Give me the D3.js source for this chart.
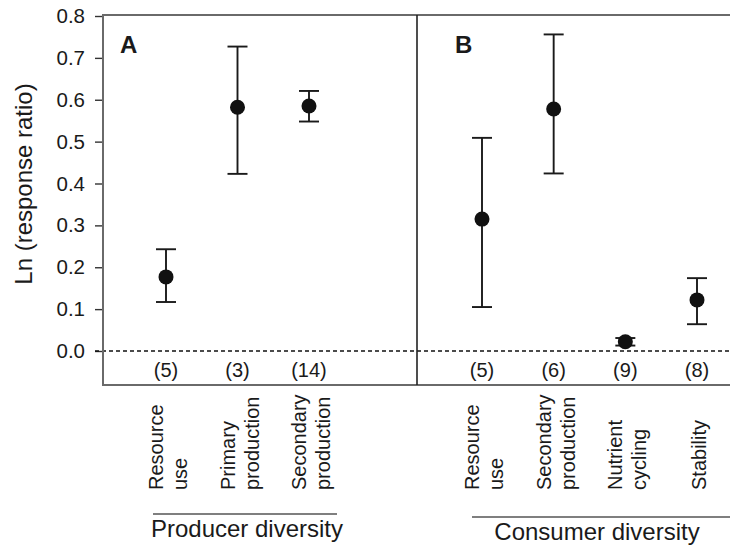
<!DOCTYPE html>
<html>
<head>
<meta charset="utf-8">
<script src="https://cdn.jsdelivr.net/npm/d3@7"></script>
<style>
  html, body { margin: 0; padding: 0; background: #fff; }
  svg { display: block; }
  text { font-family: "Liberation Sans", Arial, Helvetica, sans-serif; fill: #1a1a1a; }
</style>
</head>
<body>
<svg id="chart" width="730" height="545"></svg>
<script>
// ---- data ----
const panelLetters = ["A", "B"];
const groupLabels = ["Producer diversity", "Consumer diversity"];

const categoriesA = [["Resource", "use"], ["Primary", "production"], ["Secondary", "production"]];
const meanA  = [0.177, 0.582, 0.585];
const lowerA = [0.117, 0.423, 0.548];
const upperA = [0.243, 0.727, 0.621];
const countsA = ["(5)", "(3)", "(14)"];

const categoriesB = [["Resource", "use"], ["Secondary", "production"], ["Nutrient", "cycling"], ["Stability"]];
const meanB  = [0.315, 0.578, 0.022, 0.122];
const lowerB = [0.105, 0.424, 0.013, 0.064];
const upperB = [0.509, 0.756, 0.031, 0.174];
const countsB = ["(5)", "(6)", "(9)", "(8)"];

const yTicks = [0.0, 0.1, 0.2, 0.3, 0.4, 0.5, 0.6, 0.7, 0.8];
const yLabel = "Ln (response ratio)";

// ---- layout ----
const svg = d3.select("#chart");
const box = { left: 103, top: 15, bottom: 385, right: 745, divider: 417 };

const y = d3.scaleLinear().domain([0, 0.8]).range([351, 16]);
const xA = d3.scaleLinear().domain([0, 2]).range([166, 309]);
const xB = d3.scaleLinear().domain([0, 3]).range([482, 697]);

// y axis
const yAxis = d3.axisLeft(y).tickValues(yTicks).tickFormat(d3.format(".1f")).tickSize(8).tickPadding(10);
const gy = svg.append("g").attr("transform", `translate(${box.left},0)`).call(yAxis);
gy.select(".domain").remove();
gy.selectAll(".tick line").attr("stroke", "#333").attr("stroke-width", 1.4);
gy.selectAll(".tick text").style("font-size", "20.5px").attr("fill", "#2a2a2a");

svg.append("text")
  .attr("transform", `translate(32,184) rotate(-90)`)
  .attr("text-anchor", "middle")
  .style("font-size", "24px")
  .text(yLabel);

// zero dashed line
svg.append("line")
  .attr("x1", 95).attr("x2", 730)
  .attr("y1", y(0)).attr("y2", y(0))
  .attr("stroke", "#111").attr("stroke-width", 1.5)
  .attr("stroke-dasharray", "4,3");

// box
svg.append("rect")
  .attr("x", box.left).attr("y", box.top)
  .attr("width", box.right - box.left).attr("height", box.bottom - box.top)
  .attr("fill", "none").attr("stroke", "#6a6a6a").attr("stroke-width", 2);
svg.append("line")
  .attr("x1", box.divider).attr("x2", box.divider)
  .attr("y1", box.top).attr("y2", box.bottom)
  .attr("stroke", "#222").attr("stroke-width", 1.6);

// panel letters
const letterX = [120, 455];
panelLetters.forEach((L, i) => {
  svg.append("text")
    .attr("x", letterX[i]).attr("y", 53)
    .style("font-size", "24px").style("font-weight", "bold")
    .attr("fill", "#111")
    .text(L);
});

function drawPanel(x, cats, mean, lower, upper, counts) {
  const g = svg.append("g");
  const idx = d3.range(cats.length);
  const cap = 10;
  // error bars
  g.selectAll(".eb").data(idx).join("line")
    .attr("x1", i => x(i)).attr("x2", i => x(i))
    .attr("y1", i => y(lower[i])).attr("y2", i => y(upper[i]))
    .attr("stroke", "#1a1a1a").attr("stroke-width", 1.9);
  g.selectAll(".capU").data(idx).join("line")
    .attr("x1", i => x(i) - cap).attr("x2", i => x(i) + cap)
    .attr("y1", i => y(upper[i])).attr("y2", i => y(upper[i]))
    .attr("stroke", "#1a1a1a").attr("stroke-width", 1.9);
  g.selectAll(".capL").data(idx).join("line")
    .attr("x1", i => x(i) - cap).attr("x2", i => x(i) + cap)
    .attr("y1", i => y(lower[i])).attr("y2", i => y(lower[i]))
    .attr("stroke", "#1a1a1a").attr("stroke-width", 1.9);
  // points
  g.selectAll("circle").data(idx).join("circle")
    .attr("cx", i => x(i)).attr("cy", i => y(mean[i]))
    .attr("r", 7.5).attr("fill", "#111");
  // counts
  g.selectAll(".cnt").data(idx).join("text")
    .attr("x", i => x(i)).attr("y", 377)
    .attr("text-anchor", "middle")
    .style("font-size", "20px")
    .attr("fill", "#2a2a2a")
    .text(i => counts[i]);
  // category labels (rotated)
  idx.forEach(i => {
    const lines = cats[i];
    lines.forEach((ln, j) => {
      const off = (j - (lines.length - 1) / 2) * 24 + 9;
      svg.append("text")
        .attr("transform", `translate(${x(i) + off},490) rotate(-90)`)
        .attr("text-anchor", "start")
        .style("font-size", "20px")
        .attr("fill", "#2a2a2a")
        .text(ln);
    });
  });
}

drawPanel(xA, categoriesA, meanA, lowerA, upperA, countsA);
drawPanel(xB, categoriesB, meanB, lowerB, upperB, countsB);

// group lines and labels
const groups = [
  { x1: 153, x2: 337, ly: 514, tx: 247, ty: 537 },
  { x1: 472, x2: 735, ly: 517, tx: 597, ty: 540 }
];
groups.forEach((gp, i) => {
  svg.append("line")
    .attr("x1", gp.x1).attr("x2", gp.x2)
    .attr("y1", gp.ly).attr("y2", gp.ly)
    .attr("stroke", "#555").attr("stroke-width", 1.6);
  svg.append("text")
    .attr("x", gp.tx).attr("y", gp.ty)
    .attr("text-anchor", "middle")
    .style("font-size", "24px")
    .attr("fill", "#222")
    .text(groupLabels[i]);
});
</script>
</body>
</html>
